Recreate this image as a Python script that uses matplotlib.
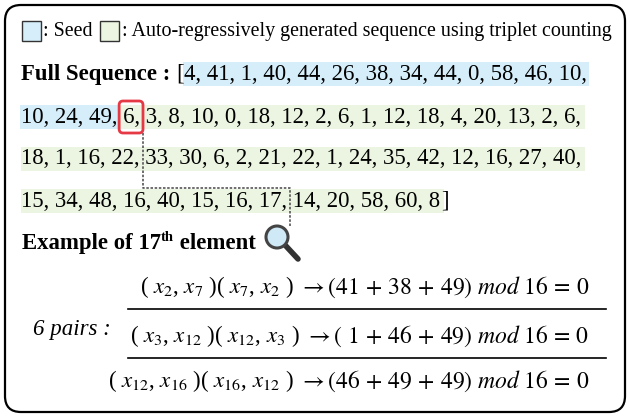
import matplotlib.pyplot as plt
from matplotlib.patches import FancyBboxPatch, Rectangle, Circle

# sequence data
seed = [4, 41, 1, 40, 44, 26, 38, 34, 44, 0, 58, 46, 10, 10, 24, 49]
generated = [6, 3, 8, 10, 0, 18, 12, 2, 6, 1, 12, 18, 4, 20, 13, 2, 6,
             18, 1, 16, 22, 33, 30, 6, 2, 21, 22, 1, 24, 35, 42, 12, 16, 27, 40,
             15, 34, 48, 16, 40, 15, 16, 17, 14, 20, 58, 60, 8]
row_sizes = [13, 20, 18, 13]

# example of the 17th element
pairs = [(2, 7), (3, 12), (12, 16)]
pair_terms = [[41, 38, 49], [1, 46, 49], [46, 49, 49]]
modulus = 16
n_pairs = 6

BLUE = '#d5eefa'
GREEN = '#ebf5e1'
SERIF = ['Liberation Serif', 'DejaVu Serif']
FS = 16.4

plt.rcParams['mathtext.fontset'] = 'stix'

fig = plt.figure(figsize=(6.3, 4.17), dpi=100)
ax = fig.add_axes([0, 0, 1, 1])
ax.set_xlim(0, 630)
ax.set_ylim(417, 0)
ax.axis('off')
renderer = fig.canvas.get_renderer()


def text_w(s, **kw):
    t = ax.text(0, 0, s, **kw)
    w = t.get_window_extent(renderer).width
    t.remove()
    return w


# outer rounded frame
ax.add_patch(FancyBboxPatch((5, 5), 620, 407, boxstyle='round,pad=0,rounding_size=16',
                            fc='white', ec='black', lw=1.6))

# legend
ly = 31
LFS = 14.4
ax.add_patch(Rectangle((22, ly - 10), 19, 20, fc=BLUE, ec='#333333', lw=1))
ax.text(43, ly, ': Seed', family=SERIF, size=LFS, va='center')
x2 = 43 + text_w(': Seed', family=SERIF, size=LFS) + 7
ax.add_patch(Rectangle((x2, ly - 10), 19, 20, fc=GREEN, ec='#333333', lw=1))
ax.text(x2 + 22, ly, ': Auto-regressively generated sequence using triplet counting',
        family=SERIF, size=LFS, va='center')

# full sequence rows
full = seed + generated
row_y = [74, 117, 159, 201]
x_left = 21
band_h = 24
start = 0
pos_info = {}
for r, n in enumerate(row_sizes):
    items = [str(v) for v in full[start:start + n]]
    y = row_y[r]
    x0 = x_left
    if r == 0:
        ax.text(x0, y, 'Full Sequence :', family=SERIF, size=FS, weight='bold', va='center')
        x0 += text_w('Full Sequence :', family=SERIF, size=FS, weight='bold') + 6
        ax.text(x0, y, '[', family=SERIF, size=FS, va='center')
        x0 += text_w('[', family=SERIF, size=FS)
    last = r == len(row_sizes) - 1
    s = ', '.join(items) + ('' if last else ',')
    total_w = text_w(s, family=SERIF, size=FS)
    n_seed = max(0, min(n, len(seed) - start))
    if n_seed > 0:
        seed_w = text_w(', '.join(items[:n_seed]) + ',', family=SERIF, size=FS) + 2
    else:
        seed_w = 0
    if n_seed > 0:
        ax.add_patch(Rectangle((x0 - 1, y - band_h / 2), seed_w + 1, band_h, fc=BLUE, ec='none', zorder=1))
    if n_seed < n:
        ax.add_patch(Rectangle((x0 + seed_w, y - band_h / 2), total_w - seed_w + 4, band_h,
                               fc=GREEN, ec='none', zorder=1))
    ax.text(x0, y, s, family=SERIF, size=FS, va='center', zorder=3)
    if last:
        ax.text(x0 + total_w + 1, y, ']', family=SERIF, size=FS, va='center', zorder=3)
    for k in range(n):
        st = x0 + text_w(', '.join(items[:k + 1]), family=SERIF, size=FS) - text_w(items[k], family=SERIF, size=FS)
        pos_info[start + k] = (st, x0 + text_w(', '.join(items[:k + 1]) + ',', family=SERIF, size=FS), y)
    start += n

# red box around the 17th element
idx = len(seed)
bx0, bx1, by = pos_info[idx]
ax.add_patch(FancyBboxPatch((bx0 - 4, by - 16), bx1 - bx0 + 7, 32,
                            boxstyle='round,pad=0,rounding_size=4', fc='none', ec='#e63946', lw=2, zorder=4))

# dotted connector down to the magnifier
vx1 = bx1 + 3
hx_y = (row_y[2] + row_y[3]) / 2 + 8
x14 = pos_info[len(full) - 5][0] - 3
ax.plot([vx1, vx1, x14, x14], [by + 16, hx_y, hx_y, 226], color='#555555', lw=1.2,
        linestyle=(0, (1.5, 1)), zorder=2)

# example title
ey = 243
EFS = 16.4
ax.text(22, ey, 'Example of 17', family=SERIF, size=EFS, weight='bold', va='center')
ex = 22 + text_w('Example of 17', family=SERIF, size=EFS, weight='bold')
ax.text(ex, ey - 6, 'th', family=SERIF, size=10.5, weight='bold', va='center')
ex += text_w('th', family=SERIF, size=10.5, weight='bold')
ax.text(ex, ey, ' element', family=SERIF, size=EFS, weight='bold', va='center')

# magnifier
ax.add_patch(Circle((277, 237), 11, fc='#cfe9f7', ec='#444444', lw=2.2, zorder=5))
ax.plot([285, 298], [245, 259], color='#333333', lw=4, solid_capstyle='round', zorder=4)

# pair rows
fy = [287, 336, 381]
for (a, b), terms, y in zip(pairs, pair_terms, fy):
    left = r'( $x_{%d}$, $x_{%d}$ )( $x_{%d}$, $x_{%d}$ )' % (a, b, b, a)
    t0 = r'\ %d' % terms[0] if terms[0] < 10 else '%d' % terms[0]
    right = r'$\rightarrow(%s\,+\,%d\,+\,%d)\ \mathit{mod}\ %d\,=\,%d$' % (
        t0, terms[1], terms[2], modulus, sum(terms) % modulus)
    rw = text_w(right, family=SERIF, size=17)
    ax.text(589, y, right, family=SERIF, size=17, ha='right', va='center')
    ax.text(589 - rw - 5, y, left, family=SERIF, size=16.5, ha='right', va='center')

for y in [309, 358]:
    ax.plot([128, 606], [y, y], color='black', lw=1.2)

ax.text(33, 330, '%d pairs :' % n_pairs, family=SERIF, size=16.5, style='italic', va='center')

fig.savefig('out.png', dpi=100)
